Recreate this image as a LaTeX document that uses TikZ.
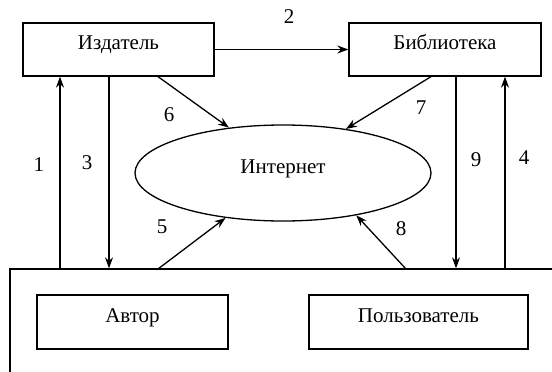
\documentclass[tikz,border=0pt]{standalone}
\usepackage{fontspec}
\setmainfont{Liberation Serif}
\usetikzlibrary{shapes.geometric,arrows.meta,calc}
\begin{document}
\begin{tikzpicture}[x=1pt,y=-1pt,
  box/.style={draw,line width=1.3pt,rectangle,inner sep=0pt,text height=6pt,text depth=6pt,font=\fontsize{21}{23}\selectfont},
  arr/.style={line width=1.3pt,-{Stealth[length=11pt,width=8pt]}},
  num/.style={font=\fontsize{21}{23}\selectfont,inner sep=0pt}]
\useasboundingbox (0,0) rectangle (552,372);
\clip (0,0) rectangle (552,372);
\node[box,minimum width=191pt,minimum height=53pt] (izd) at (118.5,49.5) {Издатель};
\node[box,minimum width=192pt,minimum height=53pt] (bib) at (445,49.5) {Библиотека};
\node[draw,line width=1.3pt,ellipse,inner sep=0pt,minimum width=296pt,minimum height=96pt,text height=6pt,text depth=6pt,font=\fontsize{21}{23}\selectfont] (inet) at (283,173) {Интернет};
\node[draw,line width=1.3pt,rectangle,minimum width=550pt,minimum height=131pt] (grp) at (285,334.5) {};
\node[box,minimum width=191pt,minimum height=54pt] (avt) at (132.5,322) {Автор};
\node[box,minimum width=219pt,minimum height=54pt] (pol) at (418.5,322) {Пользователь};
% arrows
\draw[arr] (izd) -- (bib);
\draw[arr] ([xshift=-58.5pt]izd.south |- grp.north) -- ([xshift=-58.5pt]izd.south);
\draw[arr] ([xshift=-9.5pt]izd.south) -- ([xshift=-9.5pt]izd.south |- grp.north);
\draw[arr] ([xshift=39.5pt]izd.south) -- (inet.140);
\draw[arr] ([xshift=-14pt]bib.south) -- (inet.35);
\draw[arr] ([xshift=11pt]bib.south) -- ([xshift=11pt]bib.south |- grp.north);
\draw[arr] ([xshift=60pt]bib.south |- grp.north) -- ([xshift=60pt]bib.south);
\draw[arr] (158,269) coordinate (s5) -- (inet.218);
\draw[arr] (406,269) coordinate (s8) -- (inet.330);
% labels
\node[num] (n2) at (289,17) {2};
\node[num] (n1) at (39,165) {1};
\node[num] (n3) at (87,163) {3};
\node[num] (n6) at (169,115) {6};
\node[num] (n7) at (421,108) {7};
\node[num] (n9) at (476,160) {9};
\node[num] (n4) at (524,158) {4};
\node[num] (n5) at (162,227) {5};
\node[num] (n8) at (401,229) {8};
\end{tikzpicture}
\end{document}
